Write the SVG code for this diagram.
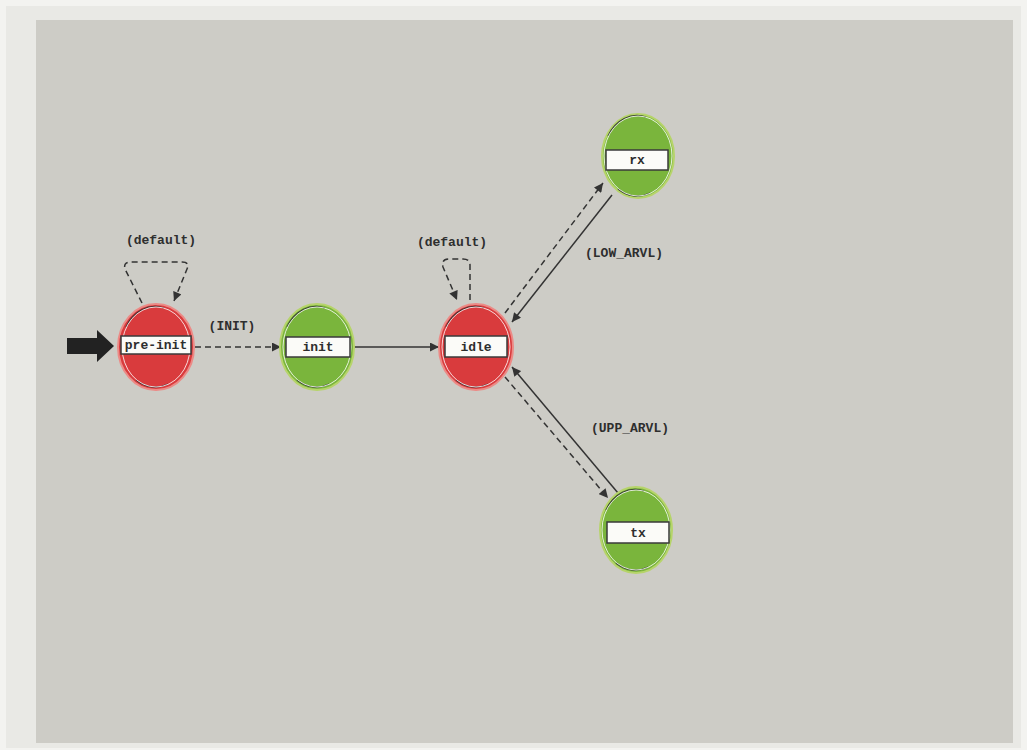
<svg xmlns="http://www.w3.org/2000/svg" width="1027" height="750" viewBox="0 0 1027 750">
  <defs>
    <style>
      .lbl { font-family: "Liberation Mono", "DejaVu Sans Mono", monospace; font-size: 13px; font-weight: bold; fill: #2e2e2e; text-anchor: middle; }
      .edge { fill: none; stroke: #333; stroke-width: 1.5; }
      .dash { stroke-dasharray: 6 4; }
      .box { fill: #fbfbf8; stroke: #3a3a3a; stroke-width: 1.5; }
      .red { fill: #d93b3d; stroke: #ec8a86; stroke-width: 2; }
      .green { fill: #7ab53c; stroke: #b6d46a; stroke-width: 2; }
      .rim-dark { fill: none; stroke: #2a2a2a; stroke-width: 1.3; opacity: 0.8; }
      .rim-light { fill: none; stroke: #ffffff; stroke-width: 1; opacity: 0.8; }
    </style>
    <marker id="arr" viewBox="0 0 10 10" refX="10" refY="5" markerWidth="10" markerHeight="9" markerUnits="userSpaceOnUse" orient="auto">
      <path d="M0,0 L10,5 L0,10 z" fill="#333"/>
    </marker>
    <!-- state bubble rim, centred at the origin -->
    <g id="bubble-rim">
      <path class="rim-dark" d="M-30,-20 A33,39 0 0 1 8,-39"/>
      <path class="rim-dark" d="M-20,33 A33,39 0 0 0 12,37"/>
      <ellipse class="rim-light" rx="34" ry="40"/>
    </g>
  </defs>

  <!-- page and panel -->
  <rect x="0" y="0" width="1027" height="750" fill="#f3f3f0"/>
  <rect x="6" y="6" width="1015" height="742" fill="#e9e9e5"/>
  <rect x="36" y="20" width="977" height="723" fill="#cdccc6"/>

  <!-- entry arrow -->
  <polygon points="67,338 97,338 97,330 114,346 97,362 97,354 67,354" fill="#222"/>

  <g id="connectors">
    <!-- pre-init self loop -->
    <path class="edge dash" d="M142,303 L125,269 Q123,262 131,262 L182,262 Q190,262 187,269 L174,301" marker-end="url(#arr)"/>
    <text class="lbl" x="161" y="244">(default)</text>
    <!-- pre-init to init -->
    <line class="edge dash" x1="195" y1="347" x2="281" y2="347" marker-end="url(#arr)"/>
    <text class="lbl" x="232" y="330">(INIT)</text>
    <!-- init to idle -->
    <line class="edge" x1="354" y1="347" x2="439" y2="347" marker-end="url(#arr)"/>
    <!-- idle self loop -->
    <path class="edge dash" d="M470,300 L470,265 Q470,259 463,259 L449,259 Q441,259 443,267 L457,300" marker-end="url(#arr)"/>
    <text class="lbl" x="452" y="246">(default)</text>
    <!-- idle and rx -->
    <line class="edge dash" x1="505" y1="313" x2="603" y2="183" marker-end="url(#arr)"/>
    <line class="edge" x1="612" y1="195" x2="512" y2="322" marker-end="url(#arr)"/>
    <text class="lbl" x="624" y="257">(LOW_ARVL)</text>
    <!-- idle and tx -->
    <line class="edge" x1="618" y1="493" x2="512" y2="367" marker-end="url(#arr)"/>
    <line class="edge dash" x1="505" y1="377" x2="608" y2="498" marker-end="url(#arr)"/>
    <text class="lbl" x="630" y="432">(UPP_ARVL)</text>
  </g>

  <g id="node-pre-init">
    <ellipse class="red" cx="156" cy="347" rx="38" ry="43"/>
    <use href="#bubble-rim" x="156" y="347"/>
    <rect class="box" x="121" y="336" width="70" height="18"/>
    <text class="lbl" x="156" y="349">pre-init</text>
  </g>

  <g id="node-init">
    <ellipse class="green" cx="317" cy="347" rx="37" ry="43"/>
    <use href="#bubble-rim" x="317" y="347"/>
    <rect class="box" x="286" y="337" width="64" height="20"/>
    <text class="lbl" x="318" y="351">init</text>
  </g>

  <g id="node-idle">
    <ellipse class="red" cx="476" cy="347" rx="37" ry="43"/>
    <use href="#bubble-rim" x="476" y="347"/>
    <rect class="box" x="445" y="336" width="62" height="21"/>
    <text class="lbl" x="476" y="351">idle</text>
  </g>

  <g id="node-rx">
    <ellipse class="green" cx="638" cy="156" rx="36" ry="42"/>
    <use href="#bubble-rim" x="638" y="156"/>
    <rect class="box" x="606" y="150" width="62" height="20"/>
    <text class="lbl" x="637" y="164">rx</text>
  </g>

  <g id="node-tx">
    <ellipse class="green" cx="636" cy="530" rx="36" ry="43"/>
    <use href="#bubble-rim" x="636" y="530"/>
    <rect class="box" x="607" y="522" width="62" height="21"/>
    <text class="lbl" x="638" y="537">tx</text>
  </g>
</svg>
